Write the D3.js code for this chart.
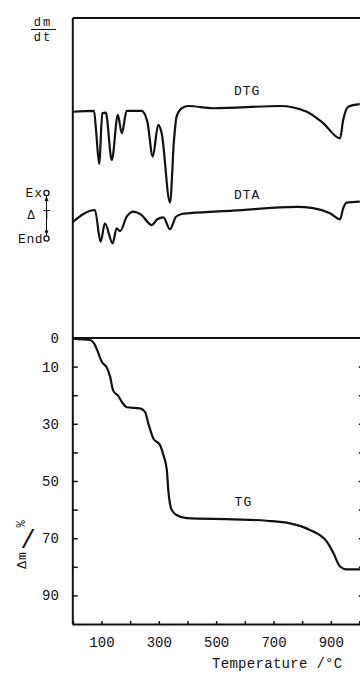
<!DOCTYPE html>
<html>
<head>
<meta charset="utf-8">
<script src="https://cdn.jsdelivr.net/npm/d3@7"></script>
<style>
  body { margin: 0; background: #fff; }
  text { font-family: "Liberation Mono", "DejaVu Sans Mono", monospace; fill: #111; }
</style>
</head>
<body>
<div id="chart"></div>
<script>
// readings: [temperature °C, value]
// upper panel signals are in arbitrary units (0..100 over the panel height)
const dtg = [
  [0, 70.7], [74, 71.0], [81, 65.0], [92, 54.4], [103, 70.2], [115, 70.4],
  [136, 55.6], [157, 69.7], [171, 64.0], [188, 71.0], [240, 71.0], [260, 67.6],
  [279, 56.7], [298, 66.6], [310, 64.0], [339, 42.3], [353, 61.9], [362, 69.2],
  [380, 71.8], [403, 72.5], [489, 71.8], [723, 72.5], [816, 70.7], [874, 67.1],
  [932, 62.4], [943, 68.1], [961, 72.3], [1001, 73.1]
];
const dta = [
  [0, 36.3], [77, 40.0], [97, 30.1], [112, 35.8], [139, 29.6], [153, 34.3],
  [165, 33.4], [188, 37.9], [211, 39.5], [240, 38.4], [275, 35.3], [295, 37.1],
  [316, 37.7], [339, 34.0], [360, 37.9], [380, 38.75], [409, 39.0], [559, 39.8],
  [781, 41.0], [838, 40.6], [897, 39.0], [932, 37.1], [943, 40.5], [955, 42.3],
  [1001, 42.6]
];
// TG mass loss, Δm / %
const tg = [
  [2, 0.35], [60, 0.7], [77, 2.4], [89, 5.3], [101, 8.3], [120, 10.6],
  [130, 13.5], [141, 18.4], [159, 20.3], [171, 22.3], [188, 24.2], [234, 24.6],
  [252, 25.8], [263, 29.8], [281, 35.1], [304, 37.4], [316, 40.9], [328, 46.2],
  [333, 53.1], [345, 60.1], [362, 61.9], [397, 63.0], [560, 63.4], [676, 63.9],
  [758, 64.8], [827, 67.1], [886, 71.2], [909, 75.2], [932, 79.9], [955, 80.9],
  [1002, 80.9]
];

const xTicks = [100, 200, 300, 400, 500, 600, 700, 800, 900];
const xLabels = [100, 300, 500, 700, 900];
const mTicks = [0, 10, 20, 30, 40, 50, 60, 70, 80, 90];
const mLabels = [0, 10, 30, 50, 70, 90];

const width = 360, height = 675;

const x = d3.scaleLinear().domain([0, 1000]).range([72.8, 359.5]);
const yUp = d3.scaleLinear().domain([0, 100]).range([338, 18]);
const yTg = d3.scaleLinear().domain([0, 100]).range([338, 624]);

const svg = d3.select("#chart")
    .append("svg")
    .attr("width", width)
    .attr("height", height);

svg.append("rect").attr("width", width).attr("height", height).attr("fill", "#fff");

// frame: top border and 0 separator
svg.append("line")
    .attr("x1", x(0)).attr("x2", x(1020))
    .attr("y1", yUp(100)).attr("y2", yUp(100))
    .attr("stroke", "#111").attr("stroke-width", 2);
svg.append("line")
    .attr("x1", x(0)).attr("x2", x(1020))
    .attr("y1", yTg(0)).attr("y2", yTg(0))
    .attr("stroke", "#111").attr("stroke-width", 2);
svg.append("line")
    .attr("x1", x(0)).attr("x2", x(0))
    .attr("y1", yUp(100)).attr("y2", yTg(100))
    .attr("stroke", "#111").attr("stroke-width", 2);

// bottom axis
const xAxis = svg.append("g")
    .attr("transform", `translate(0,${yTg(100)})`)
    .call(d3.axisBottom(x)
        .tickValues(xTicks)
        .tickSize(-3)
        .tickPadding(13)
        .tickFormat(d => xLabels.includes(d) ? d : ""));
xAxis.select(".domain").attr("stroke", "#111").attr("stroke-width", 2);
xAxis.selectAll(".tick line").attr("stroke", "#111").attr("stroke-width", 1.5);
xAxis.selectAll("text")
    .attr("font-family", "Liberation Mono, monospace")
    .attr("font-size", 14)
    .attr("fill", "#222");

// left TG axis
const yAxis = svg.append("g")
    .attr("transform", `translate(${x(0)},0)`)
    .call(d3.axisLeft(yTg)
        .tickValues(mTicks)
        .tickSize(-5)
        .tickPadding(14)
        .tickFormat(d => mLabels.includes(d) ? d : ""));
yAxis.select(".domain").remove();
yAxis.selectAll(".tick line").attr("stroke", "#111").attr("stroke-width", 1.5)
    .filter(d => d === 0).remove();
yAxis.selectAll("text")
    .attr("font-family", "Liberation Mono, monospace")
    .attr("font-size", 14)
    .attr("fill", "#222");

// right axis, mostly outside the crop, only inward ticks show
const rAxis = svg.append("g")
    .attr("transform", `translate(${x(1015)},0)`)
    .call(d3.axisRight(yTg)
        .tickValues(mTicks.slice(1))
        .tickSize(-5)
        .tickFormat(""));
rAxis.selectAll(".tick line").attr("stroke", "#111").attr("stroke-width", 1.5);

// curves
const line = (yScale) => d3.line()
    .x(d => x(d[0]))
    .y(d => yScale(d[1]))
    .curve(d3.curveMonotoneX);

[[dtg, yUp], [dta, yUp], [tg, yTg]].forEach(([data, ys]) => {
    svg.append("path")
        .datum(data)
        .attr("fill", "none")
        .attr("stroke", "#111")
        .attr("stroke-width", 2.2)
        .attr("stroke-linejoin", "round")
        .attr("d", line(ys));
});

// curve names
const curveLabel = (txt, t, yy) => svg.append("text")
    .attr("x", x(t)).attr("y", yy)
    .attr("text-anchor", "middle")
    .attr("dy", "0.35em")
    .attr("font-size", 13)
    .attr("letter-spacing", 1)
    .text(txt);
curveLabel("DTG", 608, yUp(77.5));
curveLabel("DTA", 608, yUp(45));
curveLabel("TG", 595, yTg(57));

// dm/dt
svg.append("text").attr("x", 43).attr("y", 26)
    .attr("text-anchor", "middle").attr("font-size", 12).attr("letter-spacing", 2)
    .text("dm");
svg.append("line").attr("x1", 31).attr("x2", 56).attr("y1", 29.5).attr("y2", 29.5)
    .attr("stroke", "#111").attr("stroke-width", 1);
svg.append("text").attr("x", 43).attr("y", 41)
    .attr("text-anchor", "middle").attr("font-size", 12).attr("letter-spacing", 2)
    .text("dt");

// Exo / ΔT / Endo marker
const mx = 46.5;
svg.append("text").attr("x", 43).attr("y", 197)
    .attr("text-anchor", "end").attr("font-size", 13).attr("letter-spacing", 1)
    .text("Ex");
svg.append("text").attr("x", 43).attr("y", 243)
    .attr("text-anchor", "end").attr("font-size", 13).attr("letter-spacing", 0.5)
    .text("End");
svg.append("line").attr("x1", mx).attr("x2", mx).attr("y1", 196).attr("y2", 236)
    .attr("stroke", "#111").attr("stroke-width", 1);
svg.selectAll("circle.mk")
    .data([193, 238.5])
    .join("circle")
    .attr("class", "mk")
    .attr("cx", mx).attr("cy", d => d)
    .attr("r", 2.6)
    .attr("fill", "#fff").attr("stroke", "#111").attr("stroke-width", 1.3);
svg.append("path")
    .attr("d", `M${mx},196 l-2,5 l4,0 Z M${mx},235.5 l-2,-5 l4,0 Z`)
    .attr("fill", "#111");
svg.append("text").attr("x", 31).attr("y", 215)
    .attr("text-anchor", "middle").attr("dy", "0.35em").attr("font-size", 12)
    .text("Δ");
svg.append("text").attr("x", mx).attr("y", 215)
    .attr("text-anchor", "middle").attr("dy", "0.35em").attr("font-size", 12)
    .text("T");

// Δm / %
svg.append("text")
    .attr("transform", "translate(21,560) rotate(-90)")
    .attr("text-anchor", "middle").attr("dy", "0.35em").attr("font-size", 13)
    .attr("letter-spacing", 1)
    .text("Δm");
svg.append("text")
    .attr("x", 28).attr("y", 539)
    .attr("text-anchor", "middle").attr("dy", "0.35em").attr("font-size", 26)
    .attr("font-family", "Liberation Sans, sans-serif")
    .text("/");
svg.append("text")
    .attr("transform", "translate(21,524) rotate(-90)")
    .attr("text-anchor", "middle").attr("dy", "0.35em").attr("font-size", 12)
    .text("%");

// x title
svg.append("text")
    .attr("x", 212).attr("y", 668)
    .attr("font-size", 14).attr("letter-spacing", 0.3)
    .text("Temperature /°C");
</script>
</body>
</html>
